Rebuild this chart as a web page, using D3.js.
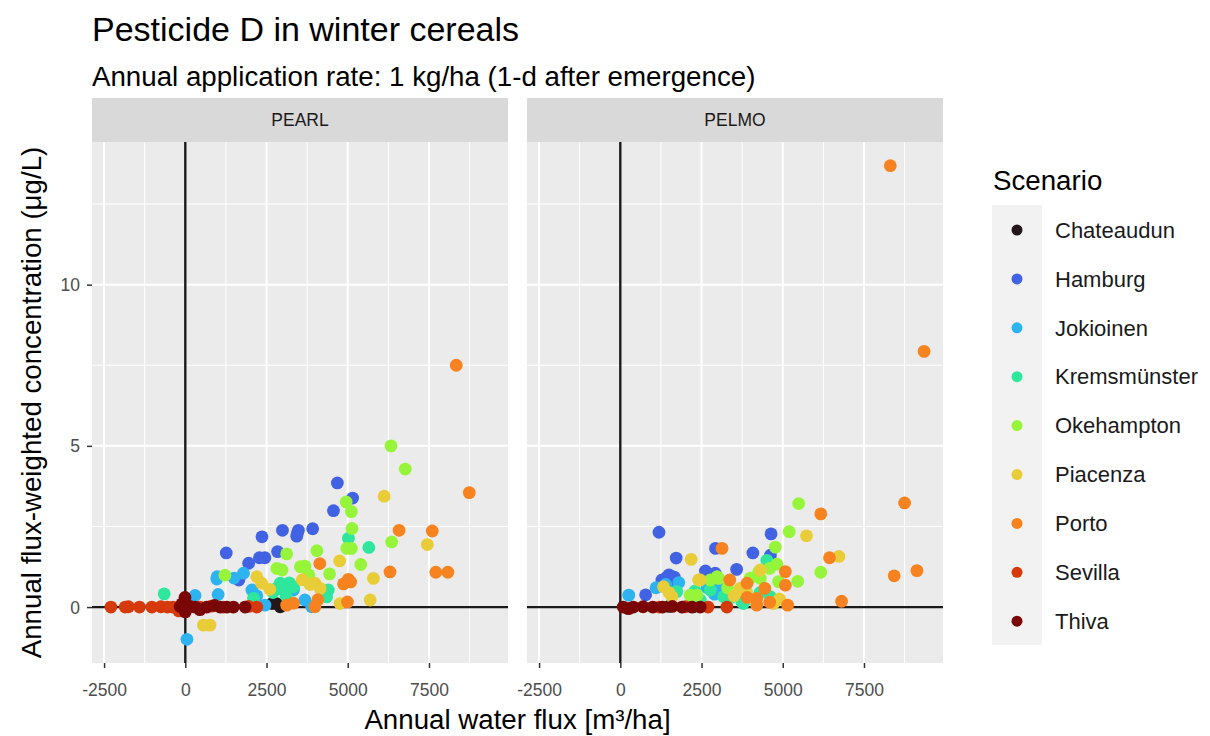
<!DOCTYPE html>
<html>
<head>
<meta charset="utf-8">
<script src="https://cdn.jsdelivr.net/npm/d3@7"></script>
<style>
  body { margin: 0; background: #fff; }
  text { font-family: "Liberation Sans", Arial, sans-serif; }
</style>
</head>
<body>
<svg id="chart"></svg>
<script>
// scenarios and their colours (legend order)
var scenarios = ['Chateaudun', 'Hamburg', 'Jokioinen', 'Kremsmünster', 'Okehampton',
                 'Piacenza', 'Porto', 'Sevilla', 'Thiva'];
var scenarioColors = ['#24171c', '#4162e2', '#2db3ef', '#2fe79c', '#96f53a',
                      '#e8cd38', '#f6831f', '#d63a0b', '#7a0605'];
var models = ['PEARL', 'PELMO'];

// tick values
var xTicks = [-2500, 0, 2500, 5000, 7500];
var xMinor = [-1250, 1250, 3750, 6250, 8750];
var yTicks = [0, 5, 10];
var yMinor = [2.5, 7.5, 12.5];

// PEARL: [annual water flux, flux-weighted concentration]
var pearlChateaudun = [[2810,0.11],[2920,0.01],[2670,0.11],[3000,0.06]];
var pearlHamburg = [[4680,3.85],[5150,3.38],[4560,2.99],[2360,2.18],[2990,2.38],[3450,2.29],[3480,2.38],
  [3920,2.43],[1260,1.68],[2280,1.53],[2450,1.53],[2840,1.72],[1950,1.36],[1650,0.84],[3430,2.2]];
var pearlJokioinen = [[970,0.87],[1790,1.05],[300,0.36],[1010,0.39],[50,-1.0],[2050,0.53],[3330,0.53],
  [2450,0.06],[3890,0.01],[3680,0.22],[980,0.94],[2200,0.35],[1500,0.9]];
var pearlKremsmunster = [[-650,0.41],[5020,2.13],[5650,1.85],[2810,0.58],[3020,0.53],[2920,0.74],
  [4400,0.53],[4350,0.32],[2100,0.27],[3330,0.63],[2700,0.45],[3200,0.75],[3100,0.35]];
var pearlOkehampton = [[6330,5.0],[6770,4.28],[4950,3.26],[5110,2.96],[5130,2.44],[5110,1.82],[4970,1.82],
  [6350,2.02],[5400,1.32],[3120,1.65],[2820,1.2],[2980,1.15],[3540,1.25],[3680,1.27],[4050,1.75],
  [4440,1.03],[1220,0.99],[3800,1.0]];
var pearlPiacenza = [[6120,3.44],[7450,1.94],[5790,0.89],[5690,0.22],[4750,1.43],[560,-0.56],[760,-0.56],
  [2200,0.94],[2350,0.74],[3840,0.7],[3990,0.74],[4150,0.58],[4760,0.11],[3600,0.85],[2600,0.55]];
var pearlPorto = [[8340,7.5],[8740,3.55],[6580,2.38],[7600,2.36],[6300,1.09],[7710,1.08],[8080,1.08],
  [4140,1.35],[5020,0.86],[5090,0.78],[4870,0.72],[4990,0.16],[3120,0.06],[3330,0.12],[4080,0.23],[3990,0.01]];
var pearlSevilla = [[-2290,0],[-1850,0],[-1750,0.01],[-1410,0],[-1030,0],[-750,0.01],[-550,0],[-380,0],
  [-200,-0.12],[450,0],[800,0.03],[1170,0],[1950,0.02],[2200,0]];
var pearlThiva = [[-160,0.02],[-10,0.3],[-100,0.1],[0,-0.15],[150,0.02],[300,0],[660,0],[900,0.05],
  [1070,0],[1280,0],[1480,0],[1840,0],[450,-0.08]];

// PELMO
var pelmoChateaudun = [[1500,0.02],[2250,0.01]];
var pelmoHamburg = [[1190,2.32],[4640,2.27],[1720,1.52],[2930,1.82],[4080,1.68],[3580,1.17],[2620,1.12],
  [1440,0.93],[1660,0.93],[1280,0.84],[780,0.38],[2920,1.05],[4620,1.61],[1550,0.75],[1500,1.0]];
var pelmoJokioinen = [[260,0.37],[1800,0.76],[2260,0.42],[3030,0.61],[2670,0.61],[1100,0.6],
  [1400,0.7],[1700,0.5],[2900,0.4]];
var pelmoKremsmunster = [[4510,1.45],[2770,0.53],[3790,0.11],[3180,0.32],[1740,0.48],[2460,0.22],
  [3740,0.16],[4620,0.32],[2300,0.5],[3400,0.3],[4300,0.45]];
var pelmoOkehampton = [[5490,3.21],[5200,2.34],[6170,1.08],[5460,0.8],[4770,1.86],[4820,1.33],[4260,1.1],
  [2980,0.94],[3880,0.48],[2770,0.84],[3030,0.89],[2360,0.37],[2150,0.37],[4310,0.89],[4870,0.79],
  [3300,0.6],[4000,0.9],[4600,1.2]];
var pelmoPiacenza = [[5730,2.21],[6730,1.57],[2180,1.48],[2410,0.84],[1330,0.63],[3690,0.53],[4720,0.11],
  [2460,0.84],[1590,0.32],[3900,0.42],[4310,1.15],[3690,0.58],[1500,0.45],[3500,0.35],[4900,0.25]];
var pelmoPorto = [[8310,13.69],[9350,7.93],[8750,3.23],[8430,0.97],[9130,1.13],[6810,0.18],[6170,2.89],
  [6440,1.53],[3130,1.82],[5080,1.1],[5080,0.68],[3370,0.84],[4450,0.58],[4200,0.27],[4200,0.06],
  [5150,0.06],[3900,0.74],[3900,0.3],[4600,0.15]];
var pelmoSevilla = [[1200,0],[2000,0.01],[2700,0],[3280,0]];
var pelmoThiva = [[90,0],[250,-0.05],[400,0],[700,0.01],[1000,0],[1300,0],[1600,0.02],[1900,0],
  [2200,0],[2460,0]];

var pearlSeries = [pearlChateaudun, pearlHamburg, pearlJokioinen, pearlKremsmunster, pearlOkehampton,
                   pearlPiacenza, pearlPorto, pearlSevilla, pearlThiva];
var pelmoSeries = [pelmoChateaudun, pelmoHamburg, pelmoJokioinen, pelmoKremsmunster, pelmoOkehampton,
                   pelmoPiacenza, pelmoPorto, pelmoSevilla, pelmoThiva];

// flatten into rows
function toRows(series) {
  var rows = [];
  series.forEach(function (pts, i) {
    pts.forEach(function (p) { rows.push({ s: i, x: p[0], y: p[1] }); });
  });
  return rows;
}
var panelRows = [toRows(pearlSeries), toRows(pelmoSeries)];

// layout
var width = 1210, height = 736;
var panelTop = 142, panelBottom = 663, panelW = 416;
var panelLeft = [92, 527];

var svg = d3.select('#chart').attr('width', width).attr('height', height);

// shared scales with ggplot-style 5% expansion
var all = panelRows[0].concat(panelRows[1]);
var xExt = d3.extent(all, function (d) { return d.x; });
var yExt = d3.extent(all, function (d) { return d.y; });
var xPad = (xExt[1] - xExt[0]) * 0.05, yPad = (yExt[1] - yExt[0]) * 0.05;

var yScale = d3.scaleLinear()
  .domain([yExt[0] - yPad, yExt[1] + yPad])
  .range([panelBottom, panelTop]);

// titles
svg.append('text').attr('x', 92).attr('y', 41)
  .attr('font-size', 34).attr('fill', '#000')
  .text('Pesticide D in winter cereals');
svg.append('text').attr('x', 92).attr('y', 86)
  .attr('font-size', 27.7).attr('fill', '#000')
  .text('Annual application rate: 1 kg/ha (1-d after emergence)');

models.forEach(function (model, m) {
  var left = panelLeft[m];
  var xScale = d3.scaleLinear()
    .domain([xExt[0] - xPad, xExt[1] + xPad])
    .range([left, left + panelW]);

  var g = svg.append('g');

  // strip
  g.append('rect').attr('x', left).attr('y', 98).attr('width', panelW).attr('height', panelTop - 98)
    .attr('fill', '#d9d9d9');
  g.append('text').attr('x', left + panelW / 2).attr('y', 126)
    .attr('text-anchor', 'middle').attr('font-size', 17.5).attr('fill', '#1a1a1a')
    .text(model);

  // panel background
  g.append('rect').attr('x', left).attr('y', panelTop).attr('width', panelW)
    .attr('height', panelBottom - panelTop).attr('fill', '#ebebeb');

  // grid
  g.selectAll('.xminor').data(xMinor).enter().append('line')
    .attr('x1', function (d) { return xScale(d); }).attr('x2', function (d) { return xScale(d); })
    .attr('y1', panelTop).attr('y2', panelBottom)
    .attr('stroke', '#fff').attr('stroke-width', 1);
  g.selectAll('.yminor').data(yMinor).enter().append('line')
    .attr('x1', left).attr('x2', left + panelW)
    .attr('y1', function (d) { return yScale(d); }).attr('y2', function (d) { return yScale(d); })
    .attr('stroke', '#fff').attr('stroke-width', 1);
  g.selectAll('.xmajor').data(xTicks).enter().append('line')
    .attr('x1', function (d) { return xScale(d); }).attr('x2', function (d) { return xScale(d); })
    .attr('y1', panelTop).attr('y2', panelBottom)
    .attr('stroke', '#fff').attr('stroke-width', 2);
  g.selectAll('.ymajor').data(yTicks).enter().append('line')
    .attr('x1', left).attr('x2', left + panelW)
    .attr('y1', function (d) { return yScale(d); }).attr('y2', function (d) { return yScale(d); })
    .attr('stroke', '#fff').attr('stroke-width', 2);

  // reference lines at 0
  g.append('line').attr('x1', xScale(0)).attr('x2', xScale(0))
    .attr('y1', panelTop).attr('y2', panelBottom)
    .attr('stroke', '#1a1a1a').attr('stroke-width', 2.4);
  g.append('line').attr('x1', left).attr('x2', left + panelW)
    .attr('y1', yScale(0)).attr('y2', yScale(0))
    .attr('stroke', '#1a1a1a').attr('stroke-width', 2.4);

  // points
  g.selectAll('circle').data(panelRows[m]).enter().append('circle')
    .attr('cx', function (d) { return xScale(d.x); })
    .attr('cy', function (d) { return yScale(d.y); })
    .attr('r', 6.4)
    .attr('fill', function (d) { return scenarioColors[d.s]; });

  // x axis
  var xAxis = g.append('g').attr('transform', 'translate(0,' + panelBottom + ')')
    .call(d3.axisBottom(xScale).tickValues(xTicks).tickSize(5)
      .tickFormat(function (d) { return String(d); }));
  xAxis.select('.domain').remove();
  xAxis.selectAll('line').attr('stroke', '#333').attr('stroke-width', 1.5);
  xAxis.selectAll('text').attr('y', 33).attr('dy', 0)
    .attr('font-size', 17.5).attr('fill', '#4d4d4d')
    .style('font-family', '"Liberation Sans", Arial, sans-serif');

  // y axis on first panel only
  if (m === 0) {
    var yAxis = g.append('g').attr('transform', 'translate(' + left + ',0)')
      .call(d3.axisLeft(yScale).tickValues(yTicks).tickSize(5)
        .tickFormat(function (d) { return String(d); }));
    yAxis.select('.domain').remove();
    yAxis.selectAll('line').attr('stroke', '#333').attr('stroke-width', 1.5);
    yAxis.selectAll('text').attr('x', -12).attr('dy', '0.35em')
      .attr('font-size', 17.5).attr('fill', '#4d4d4d')
      .style('font-family', '"Liberation Sans", Arial, sans-serif');
  }
});

// axis titles
svg.append('text')
  .attr('x', (panelLeft[0] + panelLeft[1] + panelW) / 2).attr('y', 729)
  .attr('text-anchor', 'middle').attr('font-size', 27.7).attr('fill', '#000')
  .text('Annual water flux [m³/ha]');
svg.append('text')
  .attr('transform', 'translate(41,' + ((panelTop + panelBottom) / 2) + ') rotate(-90)')
  .attr('text-anchor', 'middle').attr('font-size', 27.7).attr('fill', '#000')
  .text('Annual flux-weighted concentration (μg/L)');

// legend
var legend = svg.append('g');
legend.append('text').attr('x', 993).attr('y', 190)
  .attr('font-size', 27.7).attr('fill', '#000').text('Scenario');
legend.append('rect').attr('x', 992).attr('y', 205).attr('width', 50).attr('height', 440)
  .attr('fill', '#f2f2f2');
var keys = legend.selectAll('.key').data(scenarios).enter().append('g')
  .attr('transform', function (d, i) { return 'translate(0,' + (230 + i * 48.9) + ')'; });
keys.append('circle').attr('cx', 1017).attr('cy', 0).attr('r', 5.5)
  .attr('fill', function (d, i) { return scenarioColors[i]; });
keys.append('text').attr('x', 1055).attr('y', 0).attr('dy', '0.35em')
  .attr('font-size', 22).attr('fill', '#1a1a1a').text(function (d) { return d; });
</script>
</body>
</html>
